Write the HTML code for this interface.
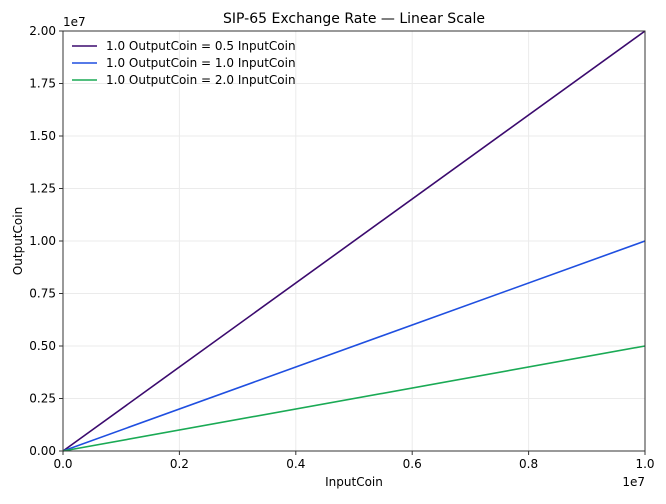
<!DOCTYPE html>
<html><head><meta charset="utf-8"><style>
body{margin:0;background:#fff;font-family:"DejaVu Sans","Liberation Sans",sans-serif;}
svg text{font-family:"DejaVu Sans","Liberation Sans",sans-serif;}
</style></head><body>
<svg id="chart" width="666" height="500" xmlns="http://www.w3.org/2000/svg">
<rect width="666" height="500" fill="#fff"/>
<text x="354" y="23" text-anchor="middle" font-size="14">SIP-65 Exchange Rate — Linear Scale</text>
<g id="grid"></g><g id="series"></g><g id="axes"></g>
<text x="354" y="486" text-anchor="middle" font-size="12">InputCoin</text>
<text x="22" y="241" text-anchor="middle" font-size="12" transform="rotate(-90 22 241)">OutputCoin</text>
<text x="645" y="486" text-anchor="end" font-size="12">1e7</text>
<text x="63" y="26" font-size="12">1e7</text>
<g id="legend"></g>
</svg>
<script>
const xTicks=[0,0.2,0.4,0.6,0.8,1.0];
const xTickLabels=["0.0","0.2","0.4","0.6","0.8","1.0"];
const yTicks=[0,0.25,0.5,0.75,1.0,1.25,1.5,1.75,2.0];
const yTickLabels=["0.00","0.25","0.50","0.75","1.00","1.25","1.50","1.75","2.00"];
const seriesNames=["1.0 OutputCoin = 0.5 InputCoin","1.0 OutputCoin = 1.0 InputCoin","1.0 OutputCoin = 2.0 InputCoin"];
const seriesColors=["#3b0a6e","#1f4fe0","#1aaa55"];
const inputX=[0,1.0];
const series0=[0,2.0];
const series1=[0,1.0];
const series2=[0,0.5];
const allSeries=[series0,series1,series2];
const NS="http://www.w3.org/2000/svg";
const L=63,R=645,T=31,B=451;
const sx=v=>L+(v-0)/(1.0)*(R-L);
const sy=v=>B-(v-0)/(2.0)*(B-T);
function mk(tag,attrs,parent){const e=document.createElementNS(NS,tag);for(const k in attrs)e.setAttribute(k,attrs[k]);document.getElementById(parent).appendChild(e);return e;}
xTicks.forEach((t,i)=>{
 const g=mk("line",{x1:sx(t),x2:sx(t),y1:T,y2:B,stroke:"#ebebeb","stroke-width":1},"grid");
 
 
 const tk=mk("line",{x1:sx(t),x2:sx(t),y1:B,y2:B+4,stroke:"#333"},"axes");
 
 
 const tx=mk("text",{x:sx(t),y:B+17,"text-anchor":"middle","font-size":12},"axes");
 tx.textContent=xTickLabels[i];
 
 
});
yTicks.forEach((t,i)=>{
 const g=mk("line",{x1:L,x2:R,y1:sy(t),y2:sy(t),stroke:"#ebebeb","stroke-width":1},"grid");
 
 
 const tk=mk("line",{x1:L-4,x2:L,y1:sy(t),y2:sy(t),stroke:"#333"},"axes");
 
 
 const tx=mk("text",{x:L-7,y:sy(t)+4,"text-anchor":"end","font-size":12},"axes");
 tx.textContent=yTickLabels[i];
 
 
});
const fr=mk("rect",{x:L,y:T,width:R-L,height:B-T,fill:"none",stroke:"#333","stroke-width":1},"axes");


allSeries.forEach((s,i)=>{
 const pts=s.map((v,j)=>sx(inputX[j])+","+sy(v)).join(" ");
 const p=mk("polyline",{points:pts,fill:"none",stroke:seriesColors[i],"stroke-width":1.6},"series");
 
 
 const ly=46+i*17;
 const ll=mk("line",{x1:72,x2:97,y1:ly,y2:ly,stroke:seriesColors[i],"stroke-width":1.6},"legend");
 
 
 const lt=mk("text",{x:106,y:ly+4,"font-size":12},"legend");
 lt.textContent=seriesNames[i];
 
 
});
</script>
</body></html>
